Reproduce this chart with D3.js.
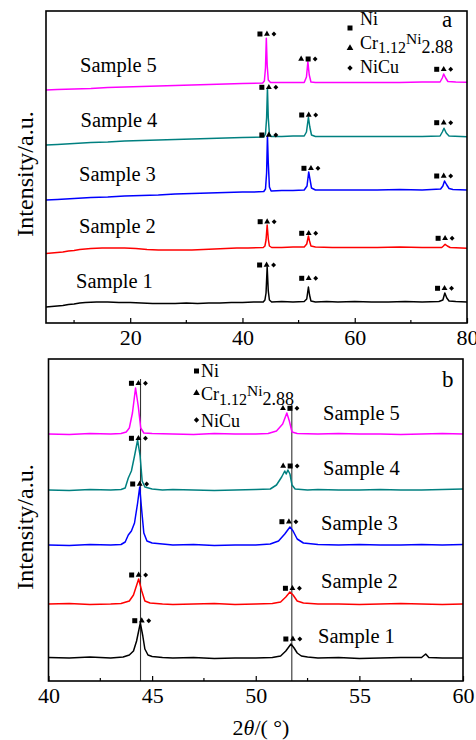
<!DOCTYPE html>
<html>
<head>
<meta charset="utf-8">
<script src="https://cdn.jsdelivr.net/npm/d3@7"></script>
<style>
  body { margin: 0; background: #fff; }
  svg { display: block; }
  svg text { font-family: "Liberation Serif", "Times New Roman", serif; fill: #000; }
</style>
</head>
<body>
<div id="chart"></div>
<script>
// XRD patterns, stacked intensity in a.u.
const samples = ['Sample 1', 'Sample 2', 'Sample 3', 'Sample 4', 'Sample 5'];

// panel a: 2theta 5-80
const scanA1 = [[5,16],[6,16.5],[7,17],[8,17.5],[9,18.5],[10,19],[11,20],[12,20.5],[14,21],[16,21],[18,20.5],[20,20.5],[22,20],[24,19.5],[26,19.5],[28,19.5],[30,20],[32,19.5],[34,20],[36,20],[38,20.5],[40,20.5],[42,21],[43.7,21],[44.0,23],[44.2,30],[44.4,56],[44.6,32],[44.8,23],[45.2,21],[47,21.5],[49,21],[51,21.5],[51.45,24],[51.75,36],[51.95,28],[52.2,22],[53,21],[55,21.5],[57,21],[60,21.5],[63,21],[66,21],[69,21.5],[72,21],[75,21.5],[75.7,23],[76.05,30],[76.4,25],[76.8,22],[78,21.5],[80,21]];
const scanA2 = [[5,69.5],[6,70],[7,70.5],[8,71],[9,72],[10,72.5],[11,73.5],[12,74],[13,74.5],[15,75],[17,75],[19,75],[21,74.5],[23,73.5],[25,73],[27,73],[29,73],[31,73],[33,73.5],[35,74],[37,74.5],[39,75],[41,75],[43.7,75.5],[44.0,77],[44.2,83],[44.4,98],[44.6,84],[44.8,77],[45.2,75.5],[47,75.5],[49,76],[51,76],[51.45,79],[51.75,87],[51.95,82],[52.2,77],[53,76],[56,75.5],[60,75.5],[64,75.5],[68,76],[72,75.5],[75.5,75.5],[75.8,77],[76.1,78.7],[76.5,77],[77,75.5],[80,74.7]];
const scanA3 = [[5,123],[7,123.5],[10,124.5],[13,125.5],[16,126],[19,127],[22,127.5],[25,128],[28,129],[31,129.5],[34,130],[37,130.5],[40,131],[42,131],[43.8,131.5],[44.1,134],[44.3,150],[44.45,187],[44.6,160],[44.8,136],[45.1,132],[47,132.5],[49,132.5],[51,133],[51.5,137],[51.8,151],[52.05,143],[52.3,135],[53,133],[56,133],[60,133],[64,133],[68,133.5],[72,133],[75.3,134],[75.7,137],[76.0,142],[76.4,138],[76.8,134.5],[77.5,133.5],[80,133]];
const scanA4 = [[5,178],[7,178.5],[10,179.5],[13,180.5],[16,181],[19,182],[22,182.5],[25,183],[28,183.5],[31,184],[34,184.5],[37,185],[40,185.5],[43.8,186],[44.1,189],[44.3,205],[44.45,234.7],[44.6,205],[44.8,189],[45.1,186.5],[47,186.5],[49,187],[51,187],[51.4,191],[51.75,205.7],[52.0,196],[52.3,188],[53,186.5],[56,186.5],[60,186.5],[64,186.5],[68,186.5],[72,186.5],[75.2,187],[75.6,191],[75.9,194.7],[76.3,190],[76.8,187],[80,186.3]];
const scanA5 = [[5,233],[7,233.5],[10,234],[13,234.5],[16,235.5],[19,236],[22,236.5],[25,237],[28,237.5],[31,238],[34,238.5],[37,239],[40,239.5],[43.6,240],[43.9,242],[44.1,255],[44.25,284.7],[44.4,258],[44.6,243],[45,240.5],[47,240.5],[49,240.5],[51,240.5],[51.4,246],[51.65,261.3],[51.9,248],[52.2,241],[53,240.5],[56,240.5],[60,240.5],[64,240.5],[68,240.5],[72,241],[75.2,241],[75.6,245],[75.85,249],[76.2,245],[76.6,241.5],[78,241],[80,240.7]];

// panel b: 2theta 40-60 close-up
const scanB1 = [[40,23.5],[41,23],[42,24],[43,23],[43.6,24],[43.9,26],[44.1,30],[44.25,40],[44.43,58],[44.55,45],[44.65,32],[44.8,26],[45,24.5],[45.5,23.5],[46,23],[47,23.5],[48,22.5],[49,23],[50,23],[50.8,23.5],[51.2,25],[51.45,30],[51.7,37],[51.85,33],[52,28],[52.2,25],[52.5,24],[53,23],[54,23.5],[55,22.5],[56,23],[57,23.5],[58,23.5],[58.2,27],[58.35,23.5],[59,23],[60,23]];
const scanB2 = [[40,77],[41,77.5],[42,76.5],[43,77],[43.5,77.5],[43.9,80],[44.1,86],[44.35,102],[44.5,90],[44.65,80],[44.9,78],[45.5,77],[46,76.5],[47,77],[48,77.5],[49,76.5],[50,77],[50.8,77.5],[51.2,79],[51.45,84],[51.65,89],[51.8,86],[52,80],[52.3,78],[53,77],[54,77],[55,76.5],[56,77],[57,77.5],[58,77],[59,76.5],[60,77]];
const scanB3 = [[40,136],[41,135.5],[42,136.5],[43,136],[43.5,136.5],[43.7,139],[43.85,146],[44.0,150],[44.15,158],[44.3,178],[44.4,194],[44.5,170],[44.6,148],[44.75,140],[45,138],[45.5,137],[46,136],[47,136.5],[48,135.5],[49,136],[50,136],[50.7,137],[51.1,140],[51.4,147],[51.65,154],[51.8,150],[52,142],[52.3,138],[53,136.5],[54,136],[55,136.5],[56,136],[57,136],[58,136.5],[59,136],[60,136.5]];
const scanB4 = [[40,191],[41,190.5],[42,191.5],[43,191],[43.5,191.5],[43.7,193],[43.85,203],[44.0,210],[44.15,225],[44.3,241],[44.42,225],[44.52,200],[44.65,194],[45,192],[45.5,191],[46,191.5],[47,191],[48,190.5],[49,191],[50,191.5],[50.7,192],[51.0,196],[51.25,204],[51.4,210],[51.47,207],[51.55,211],[51.65,207],[51.75,196],[51.9,192],[52.5,191],[53,191.5],[54,191],[55,191],[56,191.5],[57,191],[58,191],[59,191.5],[60,192]];
const scanB5 = [[40,247],[41,246.5],[42,247.5],[43,247],[43.5,247.5],[43.75,249],[43.9,253],[44.05,268],[44.2,293],[44.33,275],[44.45,253],[44.6,248],[45,247.5],[46,247],[47,246.5],[48,247.5],[49,247],[50,247],[50.6,247.5],[51.0,250],[51.3,257],[51.5,268],[51.62,260],[51.75,249],[52,247.5],[53,247],[54,247.5],[55,247],[56,247],[57,246.5],[58,247],[59,247.5],[60,247]];

// phase marks above the peaks: [2theta, intensity, order] s=Ni, t=Cr1.12Ni2.88, d=NiCu
const marksA = [
  [44.3, 58, 'std'], [51.8, 44.7, 'std'], [76.0, 34.7, 'std'],
  [44.4, 101.3, 'std'], [51.8, 89.7, 'std'], [76.1, 84.7, 'std'],
  [44.7, 188, 'std'], [52.2, 154.7, 'std'], [75.85, 147, 'std'],
  [44.7, 235.7, 'std'], [51.8, 208, 'std'], [75.85, 200.3, 'std'],
  [44.36, 289, 'std'], [51.7, 264, 'tsd'], [75.85, 253.7, 'std']
];
const marksB = [
  [44.5, 60.3, 'std'], [51.79, 42, 'std'],
  [44.35, 106, 'std'], [51.77, 92.7, 'std'],
  [44.4, 197, 'std'], [51.6, 159.3, 'std'],
  [44.34, 242.7, 'std'], [51.66, 215, 'tsd'],
  [44.34, 297.7, 'std'], [51.65, 272.7, 'tsd']
];
// reference lines in panel b: [2theta, top intensity]
const refLinesB = [[44.44, 302], [51.74, 276]];

const ticksA = [20, 40, 60, 80];
const minorA = [10, 30, 50, 70];
const ticksB = [40, 45, 50, 55, 60];
const minorB = [42.5, 47.5, 52.5, 57.5];

const colors = ['#000000', '#ff0000', '#0000ff', '#008080', '#ff00ff'];

const svg = d3.select('#chart').append('svg')
    .attr('width', 476)
    .attr('height', 740);

// small phase glyphs: square, triangle, diamond (rotated square)
function glyph(sel, kind, cx, cy, scale) {
    const k = scale || 1;
    if (kind === 's') {
        sel.append('path').attr('d', d3.symbol().type(d3.symbolSquare).size(25 * k)())
            .attr('transform', `translate(${cx},${cy})`);
    } else if (kind === 't') {
        sel.append('path').attr('d', d3.symbol().type(d3.symbolTriangle).size(15 * k)())
            .attr('transform', `translate(${cx},${cy})`);
    } else {
        sel.append('path').attr('d', d3.symbol().type(d3.symbolSquare).size(12 * k)())
            .attr('transform', `translate(${cx},${cy}) rotate(45)`);
    }
}

function drawPanel(p) {
    const x = d3.scaleLinear().domain(p.xDomain).range([p.left, p.right]);
    const y = d3.scaleLinear().domain(p.yDomain).range([p.bottom, p.top]);
    const g = svg.append('g');

    // clip traces to the frame
    const clipId = 'clip-' + p.name;
    g.append('clipPath').attr('id', clipId)
        .append('rect')
        .attr('x', p.left).attr('y', p.top)
        .attr('width', p.right - p.left).attr('height', p.bottom - p.top);

    const line = d3.line().x(d => x(d[0])).y(d => y(d[1]));

    // reference lines (panel b only)
    (p.refLines || []).forEach(r => {
        g.append('line')
            .attr('x1', x(r[0])).attr('x2', x(r[0]))
            .attr('y1', y(p.yDomain[0])).attr('y2', y(r[1]))
            .attr('stroke', '#333').attr('stroke-width', 1.1);
    });

    g.append('g').attr('clip-path', `url(#${clipId})`)
        .selectAll('path')
        .data(p.scans)
        .join('path')
        .attr('d', line)
        .attr('fill', 'none')
        .attr('stroke', (d, i) => colors[i])
        .attr('stroke-width', 1.5)
        .attr('stroke-linejoin', 'round');

    // phase symbols
    const mg = g.append('g').attr('fill', '#000');
    p.marks.forEach(m => {
        const cx = x(m[0]), cy = y(m[1]);
        m[2].split('').forEach((k, i) => glyph(mg, k, cx + (i - 1) * 7, cy));
    });

    // bottom axis, ticks inward
    const ax = g.append('g')
        .attr('transform', `translate(0,${p.bottom})`)
        .call(d3.axisBottom(x).tickValues(p.ticks).tickSize(-5).tickPadding(6.4).tickFormat(d3.format('d')));
    ax.select('.domain').remove();
    ax.selectAll('line').attr('stroke', '#000').attr('stroke-width', 1.2);
    ax.selectAll('text').attr('font-size', 22);

    g.append('g')
        .selectAll('line')
        .data(p.minor)
        .join('line')
        .attr('x1', d => x(d)).attr('x2', d => x(d))
        .attr('y1', p.bottom).attr('y2', p.bottom - 3)
        .attr('stroke', '#000').attr('stroke-width', 1.2);

    // frame
    g.append('rect')
        .attr('x', p.left).attr('y', p.top)
        .attr('width', p.right - p.left).attr('height', p.bottom - p.top)
        .attr('fill', 'none').attr('stroke', '#000').attr('stroke-width', 1.6);

    // y label
    g.append('text')
        .attr('transform', `translate(33,${p.yLabelY}) rotate(-90)`)
        .attr('text-anchor', 'middle')
        .attr('font-size', 24)
        .text('Intensity/a.u.');

    // sample labels
    g.append('g')
        .selectAll('text')
        .data(samples)
        .join('text')
        .attr('x', (d, i) => p.sampleLabels[i][0])
        .attr('y', (d, i) => p.sampleLabels[i][1])
        .attr('font-size', 20.5)
        .text(d => d);

    // panel letter
    g.append('text')
        .attr('x', p.letterPos[0]).attr('y', p.letterPos[1])
        .attr('font-size', 23)
        .text(p.name);

    // legend
    const L = p.legend;
    const lg = g.append('g').attr('fill', '#000');
    glyph(lg, 's', L.sx, L.y1);
    lg.append('text').attr('x', L.tx).attr('y', L.b1).attr('font-size', 18).text('Ni');
    glyph(lg, 't', L.sx, L.y2, 1.3);
    const cr = lg.append('text').attr('x', L.tx).attr('y', L.b2).attr('font-size', 18);
    cr.append('tspan').text('Cr');
    cr.append('tspan').attr('font-size', 16).attr('dy', L.sub).text('1.12');
    cr.append('tspan').attr('font-size', 15.5).attr('dy', -L.sub - L.sup).text('Ni');
    cr.append('tspan').attr('font-size', 18).attr('dy', L.sub + L.sup).text('2.88');
    glyph(lg, 'd', L.sx, L.y3, 1.2);
    lg.append('text').attr('x', L.tx).attr('y', L.b3).attr('font-size', 18).text('NiCu');

    return { x, y };
}

drawPanel({
    name: 'a',
    xDomain: [5, 80], yDomain: [0, 312],
    left: 46, right: 467, top: 11, bottom: 323,
    scans: [scanA1, scanA2, scanA3, scanA4, scanA5],
    marks: marksA,
    ticks: ticksA, minor: minorA,
    yLabelY: 174,
    sampleLabels: [[76, 288], [79, 233], [79, 181], [80.5, 127], [80, 72]],
    letterPos: [442, 27],
    legend: { sx: 350, tx: 360, y1: 28, b1: 25, y2: 48, b2: 49, y3: 68, b3: 73, sub: 3.5, sup: 5.5 }
});

drawPanel({
    name: 'b',
    xDomain: [40, 60], yDomain: [0, 322],
    left: 48.5, right: 463, top: 359, bottom: 681,
    scans: [scanB1, scanB2, scanB3, scanB4, scanB5],
    marks: marksB,
    refLines: refLinesB,
    ticks: ticksB, minor: minorB,
    yLabelY: 527,
    sampleLabels: [[318, 643], [321, 588], [321, 530], [323, 475], [323, 420]],
    letterPos: [442, 387],
    legend: { sx: 196.5, tx: 201, y1: 371, b1: 377, y2: 393, b2: 400, y3: 420, b3: 427, sub: 5, sup: 4 }
});

// x title
const xt = svg.append('text')
    .attr('x', 261).attr('y', 735)
    .attr('text-anchor', 'middle')
    .attr('font-size', 22);
xt.append('tspan').text('2');
xt.append('tspan').attr('font-style', 'italic').text('θ');
xt.append('tspan').text('/( °)');
</script>
</body>
</html>
